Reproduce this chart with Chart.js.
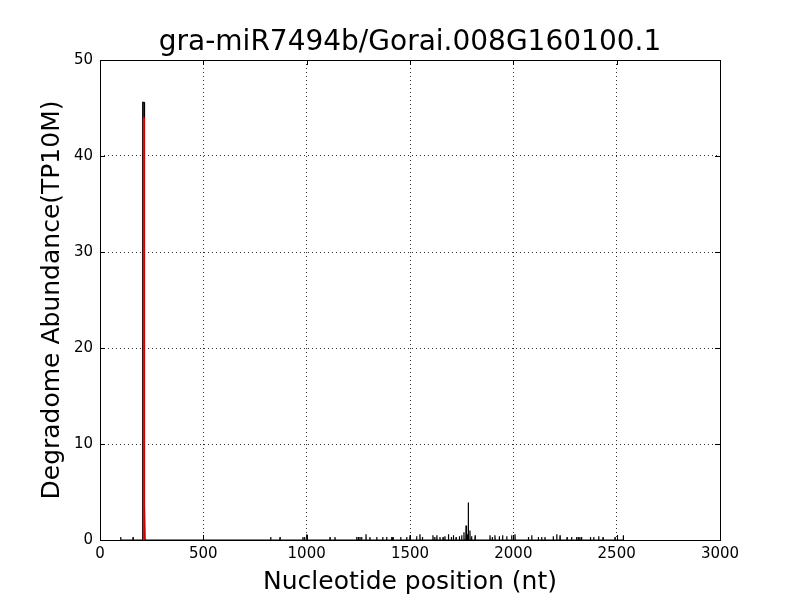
<!DOCTYPE html>
<html>
<head>
<meta charset="utf-8">
<script src="https://cdn.jsdelivr.net/npm/chart.js@4.4.1/dist/chart.umd.min.js"></script>
<style>
  body { margin: 0; background: #fff; }
  canvas { display: block; }
</style>
</head>
<body>
<canvas id="chart" width="800" height="600"></canvas>
<script>
// degradome reads: positions (nt) and abundance (TP10M)
var spikePositions = [100, 160,
  205, 206, 207, 208, 209, 210, 211, 212, 213, 214, 217,
  826, 871, 982, 990, 1000, 1113, 1137, 1242, 1250, 1258, 1266, 1287,
  1306, 1339, 1368, 1387, 1411, 1418, 1455, 1484, 1500, 1532, 1548, 1560,
  1611, 1620, 1630, 1645, 1660, 1669, 1686, 1700, 1710, 1723, 1739, 1750,
  1761, 1771, 1776, 1782, 1790, 1798, 1815,
  1887, 1898, 1911, 1932, 1948, 1968, 1992, 2008,
  2073, 2089, 2121, 2137, 2153, 2193, 2210, 2226,
  2260, 2282, 2306, 2314, 2322, 2330, 2373, 2389, 2413, 2434, 2492, 2532];
var spikeValues = [0.3, 0.3,
  45.6, 45.6, 45.6, 45.6, 45.6, 45.6, 45.6, 45.6, 45.6, 45.6, 3.6,
  0.3, 0.3, 0.3, 0.3, 0.6, 0.3, 0.3, 0.3, 0.3, 0.3, 0.3, 0.6,
  0.3, 0.3, 0.3, 0.3, 0.3, 0.3, 0.3, 0.3, 0.5, 0.4, 0.6, 0.3,
  0.5, 0.3, 0.5, 0.3, 0.3, 0.4, 0.6, 0.3, 0.5, 0.3, 0.4, 0.5,
  0.8, 1.5, 0.6, 3.9, 1.0, 0.4, 0.5,
  0.5, 0.3, 0.5, 0.4, 0.5, 0.4, 0.5, 0.6,
  0.3, 0.5, 0.3, 0.3, 0.3, 0.4, 0.6, 0.5,
  0.3, 0.3, 0.3, 0.3, 0.3, 0.3, 0.3, 0.3, 0.4, 0.3, 0.3, 0.5];

// cleavage site
var cleavagePos = 212;
var cleavageValue = 44.0;

var xTicks = [0, 500, 1000, 1500, 2000, 2500, 3000];
var yTicks = [0, 10, 20, 30, 40, 50];

// build line with zero baseline between reads
var degradome = [];
for (var i = 0; i < spikePositions.length; i++) {
  var p = spikePositions[i];
  var last = degradome.length ? degradome[degradome.length - 1].x : -1;
  if (last < p - 1) degradome.push({x: p - 1, y: 0});
  degradome.push({x: p, y: spikeValues[i]});
  if (spikePositions[i + 1] !== p + 1) degradome.push({x: p + 1, y: 0});
}

var font = "'DejaVu Sans', sans-serif";

// box and inward ticks, classic style
var frame = {
  id: 'frame',
  afterDraw: function(chart) {
    var ctx = chart.ctx, a = chart.chartArea;
    var xs = chart.scales.x, ys = chart.scales.y;
    ctx.save();
    ctx.strokeStyle = '#000';
    ctx.lineWidth = 1;
    ctx.beginPath();
    xTicks.forEach(function(t) {
      var px = Math.round(xs.getPixelForValue(t)) + 0.5;
      ctx.moveTo(px, a.bottom); ctx.lineTo(px, a.bottom - 5);
      ctx.moveTo(px, a.top); ctx.lineTo(px, a.top + 5);
    });
    yTicks.forEach(function(t) {
      var py = Math.round(ys.getPixelForValue(t)) + 0.5;
      ctx.moveTo(a.left, py); ctx.lineTo(a.left + 5, py);
      ctx.moveTo(a.right, py); ctx.lineTo(a.right - 5, py);
    });
    ctx.stroke();
    ctx.strokeRect(Math.round(a.left) + 0.5, Math.round(a.top) + 0.5,
      Math.round(a.right - a.left), Math.round(a.bottom - a.top));
    ctx.restore();
  }
};

new Chart(document.getElementById('chart'), {
  type: 'line',
  data: {
    datasets: [{
      data: [{x: cleavagePos, y: 0}, {x: cleavagePos, y: cleavageValue}],
      borderColor: '#ff0000',
      borderWidth: 2,
      pointRadius: 0,
      order: 0
    }, {
      data: degradome,
      borderColor: '#000000',
      borderWidth: 1.2,
      pointRadius: 0,
      order: 1
    }]
  },
  options: {
    responsive: false,
    animation: false,
    parsing: false,
    layout: { padding: { left: 20 } },
    plugins: {
      legend: { display: false },
      tooltip: { enabled: false },
      title: {
        display: true,
        text: 'gra-miR7494b/Gorai.008G160100.1',
        color: '#000',
        font: { family: font, size: 28, weight: 'normal' },
        padding: { top: 26, bottom: 0.4 }
      }
    },
    scales: {
      x: {
        type: 'linear',
        min: 0, max: 3000,
        afterBuildTicks: function(s) { s.ticks = xTicks.map(function(v) { return {value: v}; }); },
        afterFit: function(s) { s.height = 60; },
        grid: { color: 'rgba(0,0,0,0.8)', drawTicks: false },
        border: { display: false, dash: [1, 3] },
        ticks: {
          color: '#000', font: { family: font, size: 15 }, padding: 5, maxRotation: 0,
          callback: function(v) { return String(v); }
        },
        title: {
          display: true,
          text: 'Nucleotide position (nt)',
          color: '#000',
          font: { family: font, size: 25 },
          padding: { top: 2, bottom: 3 }
        }
      },
      y: {
        min: 0, max: 50,
        afterBuildTicks: function(s) { s.ticks = yTicks.map(function(v) { return {value: v}; }); },
        afterFit: function(s) { s.width = 80; },
        grid: { color: 'rgba(0,0,0,0.8)', drawTicks: false },
        border: { display: false, dash: [1, 3] },
        ticks: { color: '#000', font: { family: font, size: 15 }, padding: 7 },
        title: {
          display: true,
          text: 'Degradome Abundance(TP10M)',
          color: '#000',
          font: { family: font, size: 25 },
          padding: { top: 17, bottom: 0 }
        }
      },
      yRight: {
        position: 'right',
        min: 0, max: 50,
        afterFit: function(s) { s.width = 80; },
        grid: { display: false },
        border: { display: false },
        ticks: { display: false }
      }
    }
  },
  plugins: [frame]
});
</script>
</body>
</html>
